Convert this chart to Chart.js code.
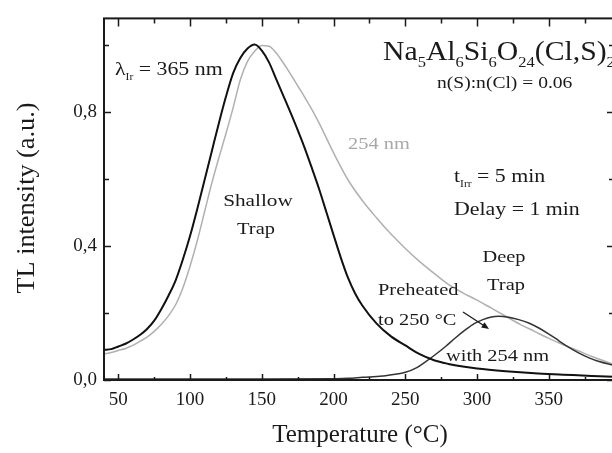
<!DOCTYPE html>
<html><head><meta charset="utf-8">
<script src="https://cdn.jsdelivr.net/npm/chart.js@4"></script>
<style>html,body{margin:0;padding:0;background:#fff;overflow:hidden}#wrap{width:616px;height:453px;position:relative}</style>
</head><body><div id="wrap"><canvas id="c"></canvas></div>
<script>
// ---- data ----
const temp365 = [40,45,50,55,60,65,70,75,80,85,90,95,100,105,110,115,120,125,130,135,140,145,150,155,160,165,170,175,180,185,190,195,200,205,210,215,220,230,240,250,260,270,280,290,300,320,340,360,380,395];
const tl365   = [0.09,0.092,0.1,0.108,0.12,0.134,0.152,0.177,0.212,0.252,0.298,0.36,0.43,0.51,0.595,0.68,0.765,0.845,0.915,0.96,0.988,1.0,0.982,0.947,0.897,0.847,0.797,0.745,0.69,0.63,0.568,0.5,0.432,0.365,0.305,0.258,0.222,0.168,0.13,0.103,0.077,0.059,0.048,0.04,0.034,0.026,0.02,0.016,0.012,0.01];
const temp254 = [40,45,50,55,60,65,70,75,80,85,90,95,100,105,110,115,120,125,130,135,140,145,150,155,160,165,170,175,180,185,190,200,210,220,230,240,250,260,270,280,290,300,310,320,330,340,350,360,370,380,395];
const tl254   = [0.078,0.082,0.088,0.094,0.103,0.115,0.128,0.145,0.166,0.192,0.225,0.275,0.34,0.415,0.5,0.585,0.662,0.735,0.812,0.895,0.95,0.98,0.997,0.995,0.975,0.945,0.912,0.877,0.842,0.805,0.765,0.677,0.597,0.535,0.483,0.435,0.392,0.353,0.318,0.285,0.26,0.238,0.214,0.19,0.166,0.145,0.124,0.105,0.088,0.07,0.047];
const tempDeep = [40,60,100,150,200,210,220,234,250,258,264,271,278,285,292,298,304,310,315,322,329,336,343,350,357,364,371,378,385,395];
const tlDeep   = [0.003,0.003,0.003,0.003,0.004,0.005,0.008,0.012,0.023,0.037,0.054,0.076,0.1,0.126,0.15,0.168,0.18,0.188,0.19,0.187,0.18,0.17,0.155,0.137,0.117,0.097,0.08,0.066,0.055,0.044];
const xMajorTicks = [50,100,150,200,250,300,350];
const xMinorTicks = [75,125,175,225,275,325,375];
const yMajorTicks = [0,0.4,0.8];
const yMinorTicks = [0.2,0.6,1.0];
const yTickLabels = ['0,0','0,4','0,8'];

const toXY = (xs, ys) => xs.map((x, i) => ({x: x, y: ys[i]}));
const SERIF = '"Liberation Serif", "Times New Roman", serif';
const INK = '#1a1a1a';

function rich(ctx, parts, x, y, sx, align) {
  ctx.save();
  ctx.translate(x, y);
  ctx.scale(sx, 1);
  let w = 0;
  parts.forEach(p => { ctx.font = p.s + 'px ' + SERIF; w += ctx.measureText(p.t).width; });
  let cx = align === 'center' ? -w / 2 : 0;
  ctx.textBaseline = 'alphabetic';
  ctx.textAlign = 'left';
  parts.forEach(p => {
    ctx.font = p.s + 'px ' + SERIF;
    ctx.fillStyle = p.c || INK;
    ctx.fillText(p.t, cx, p.dy || 0);
    cx += ctx.measureText(p.t).width;
  });
  ctx.restore();
}

const framePlugin = {
  id: 'frame',
  afterDraw(chart) {
    const ctx = chart.ctx, a = chart.chartArea;
    const xs = chart.scales.x, ys = chart.scales.y;
    ctx.save();
    ctx.strokeStyle = INK;
    ctx.lineWidth = 2;
    ctx.strokeRect(a.left, a.top, a.right - a.left, a.bottom - a.top);
    ctx.lineWidth = 1.5;
    ctx.beginPath();
    const tick = (vals, len) => {
      vals.forEach(v => {
        const px = Math.round(xs.getPixelForValue(v)) + 0.5;
        ctx.moveTo(px, a.bottom); ctx.lineTo(px, a.bottom - len);
        ctx.moveTo(px, a.top); ctx.lineTo(px, a.top + len + 2);
      });
    };
    tick(xMajorTicks, 6); tick(xMinorTicks, 3);
    const ytick = (vals, len) => {
      vals.forEach(v => {
        const py = Math.round(ys.getPixelForValue(v)) + 0.5;
        ctx.moveTo(a.left, py); ctx.lineTo(a.left + len, py);
        ctx.moveTo(a.right, py); ctx.lineTo(a.right - len, py);
      });
    };
    ytick(yMajorTicks, 7); ytick(yMinorTicks, 5);
    ctx.stroke();

    // arrow
    ctx.beginPath();
    ctx.lineWidth = 1.3;
    const x0 = 463, y0 = 312, x1 = 489, y1 = 329;
    ctx.moveTo(x0, y0); ctx.lineTo(x1 - 3, y1 - 2); ctx.stroke();
    const ang = Math.atan2(y1 - y0, x1 - x0);
    ctx.beginPath();
    ctx.fillStyle = INK;
    ctx.moveTo(x1, y1);
    ctx.lineTo(x1 - 8 * Math.cos(ang - 0.4), y1 - 8 * Math.sin(ang - 0.4));
    ctx.lineTo(x1 - 8 * Math.cos(ang + 0.4), y1 - 8 * Math.sin(ang + 0.4));
    ctx.closePath(); ctx.fill();

    // axis titles
    rich(ctx, [{t: 'Temperature (°C)', s: 25}], 360, 442, 1.0, 'center');
    ctx.save();
    ctx.translate(34, 198);
    ctx.rotate(-Math.PI / 2);
    rich(ctx, [{t: 'TL intensity (a.u.)', s: 25}], 0, 0, 1.05, 'center');
    ctx.restore();

    // annotations
    rich(ctx, [{t: 'λ', s: 19}, {t: 'Ir', s: 10, dy: 5}, {t: ' = 365 nm', s: 19}], 115, 75, 1.15);
    rich(ctx, [{t: 'Na', s: 27}, {t: '5', s: 15, dy: 7}, {t: 'Al', s: 27}, {t: '6', s: 15, dy: 7},
               {t: 'Si', s: 27}, {t: '6', s: 15, dy: 7}, {t: 'O', s: 27}, {t: '24', s: 15, dy: 7},
               {t: '(Cl,S)', s: 27}, {t: '2', s: 15, dy: 7}], 383, 60, 1.1);
    rich(ctx, [{t: 'n(S):n(Cl) = 0.06', s: 17}], 437, 88, 1.15);
    rich(ctx, [{t: '254 nm', s: 17, c: '#a8a8a8'}], 348, 149, 1.2);
    rich(ctx, [{t: 't', s: 19}, {t: 'Irr', s: 10, dy: 5}, {t: ' = 5 min', s: 19}], 454, 182, 1.15);
    rich(ctx, [{t: 'Delay = 1 min', s: 19}], 454, 215, 1.15);
    rich(ctx, [{t: 'Shallow', s: 17}], 258, 206, 1.25, 'center');
    rich(ctx, [{t: 'Trap', s: 17}], 256, 234, 1.2, 'center');
    rich(ctx, [{t: 'Deep', s: 17}], 504, 262, 1.2, 'center');
    rich(ctx, [{t: 'Trap', s: 17}], 506, 290, 1.2, 'center');
    rich(ctx, [{t: 'Preheated', s: 17}], 378, 295, 1.2);
    rich(ctx, [{t: 'to 250 °C', s: 17}], 378, 325, 1.2);
    rich(ctx, [{t: 'with 254 nm', s: 17}], 446, 361, 1.2);
    ctx.restore();
  }
};

new Chart(document.getElementById('c'), {
  type: 'line',
  data: {
    datasets: [
      {data: toXY(temp365, tl365), borderColor: '#111', borderWidth: 2},
      {data: toXY(tempDeep, tlDeep), borderColor: '#333', borderWidth: 1.5},
      {data: toXY(temp254, tl254), borderColor: '#b0b0b0', borderWidth: 1.5}
    ]
  },
  options: {
    responsive: true,
    maintainAspectRatio: false,
    animation: false,
    layout: {padding: {top: 5, right: 2, left: 0, bottom: 0}},
    elements: {point: {radius: 0}, line: {cubicInterpolationMode: 'monotone', fill: false}},
    plugins: {legend: {display: false}, tooltip: {enabled: false}},
    scales: {
      x: {
        type: 'linear', min: 40, max: 395.4,
        afterBuildTicks: s => { s.ticks = xMajorTicks.map(v => ({value: v})); },
        afterFit: s => { s.height = 73; },
        grid: {display: false, drawTicks: false},
        border: {display: false},
        ticks: {color: INK, font: {family: SERIF, size: 19}, padding: 9, maxRotation: 0, autoSkip: false,
                callback: v => String(v)}
      },
      y: {
        type: 'linear', min: 0, max: 1.078,
        afterBuildTicks: s => { s.ticks = yMajorTicks.map(v => ({value: v})); },
        afterFit: s => { s.width = 104; },
        grid: {display: false, drawTicks: false},
        border: {display: false},
        ticks: {color: INK, font: {family: SERIF, size: 19}, padding: 7, autoSkip: false,
                callback: (v, i) => yTickLabels[i]}
      }
    }
  },
  plugins: [framePlugin]
});
</script>
</body></html>
